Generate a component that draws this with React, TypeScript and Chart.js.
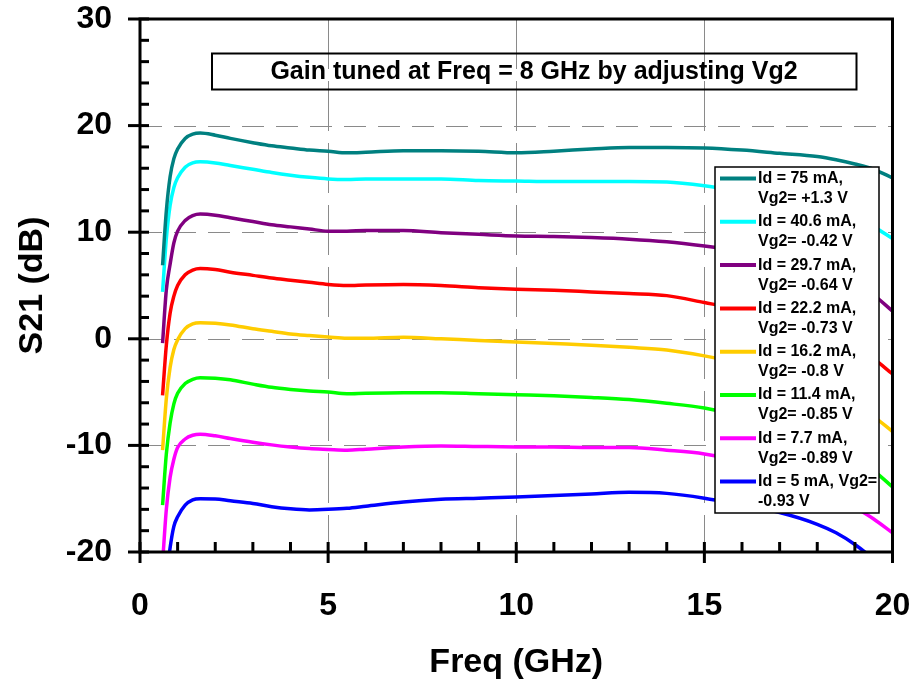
import React, { useEffect, useRef } from "react";
import { Chart, registerables } from "chart.js";

Chart.register(...registerables);

// ---------- DATA ----------
const freqGHz = [
  0.6, 0.7, 0.8, 0.9, 1.0, 1.2, 1.4, 1.6, 2.0, 2.4, 3.0, 3.5, 4.0, 4.5, 5.0, 5.5, 6.0,
  7.0, 8.0, 9.0, 10.0, 11.0, 12.0, 13.0, 14.0, 15.0, 16.0, 17.0, 18.0, 18.5, 19.0, 19.5, 20.0,
];

const s21_Id75 = [
  6.9, 12.0, 15.2, 16.9, 17.8, 18.8, 19.2, 19.3, 19.1, 18.8, 18.4, 18.1, 17.9, 17.7, 17.6, 17.45, 17.5,
  17.65, 17.65, 17.6, 17.45, 17.6, 17.8, 17.95, 17.95, 17.9, 17.7, 17.4, 17.1, 16.8, 16.4, 15.9, 15.1,
];
const s21_Id40_6 = [
  4.4, 9.4, 12.5, 14.2, 15.1, 16.1, 16.5, 16.6, 16.5, 16.25, 15.9, 15.6, 15.35, 15.15, 15.0, 14.95, 15.0,
  15.0, 15.0, 14.85, 14.8, 14.75, 14.75, 14.75, 14.7, 14.35, 13.8, 13.2, 12.4, 11.9, 11.3, 10.5, 9.4,
];
const s21_Id29_7 = [
  -0.4, 4.6, 7.0, 9.0, 10.1, 11.1, 11.55, 11.7, 11.6, 11.35, 11.0, 10.7, 10.5, 10.3, 10.1, 10.1, 10.15,
  10.15, 9.95, 9.8, 9.65, 9.6, 9.5, 9.35, 9.1, 8.7, 8.2, 7.5, 6.6, 6.0, 5.2, 4.1, 2.6,
];
const s21_Id22_2 = [
  -5.3, -0.6, 2.4, 4.0, 5.0, 6.0, 6.45, 6.6, 6.5, 6.25, 5.95, 5.7, 5.5, 5.3, 5.1, 5.0, 5.05,
  5.1, 5.0, 4.8, 4.65, 4.55, 4.4, 4.25, 4.05, 3.4, 2.7, 1.8, 0.6, -0.2, -1.0, -1.9, -3.3,
];
const s21_Id16_2 = [
  -10.45, -5.6, -2.7, -1.0, -0.1, 0.95, 1.4, 1.5, 1.45, 1.3, 0.95, 0.7, 0.45, 0.3, 0.17, 0.05, 0.05,
  0.15, 0.0, -0.15, -0.3, -0.45, -0.6, -0.8, -1.05, -1.6, -2.3, -3.2, -4.5, -5.3, -6.2, -7.3, -8.7,
];
const s21_Id11_4 = [
  -15.6, -10.8, -7.9, -6.1, -5.1, -4.2, -3.8, -3.65, -3.7, -3.85, -4.25, -4.55, -4.75, -4.9, -5.0, -5.15, -5.1,
  -5.05, -5.05, -5.15, -5.25, -5.35, -5.5, -5.7, -6.05, -6.5, -7.3, -8.3, -9.7, -10.6, -11.5, -12.4, -13.9,
];
const s21_Id7_7 = [
  -21.0, -16.0, -13.0, -11.3, -10.2, -9.4, -9.05, -8.95, -9.1, -9.35, -9.7, -9.95, -10.15, -10.3, -10.38, -10.45, -10.35,
  -10.15, -10.05, -10.1, -10.14, -10.15, -10.2, -10.2, -10.45, -10.8, -11.5, -12.5, -13.9, -14.8, -15.8, -16.9, -18.2,
];
const s21_Id5 = [
  -27.0, -22.5, -19.6, -17.6, -16.7, -15.6, -15.1, -15.0, -15.02, -15.2, -15.45, -15.75, -15.95, -16.05, -16.0, -15.9, -15.7,
  -15.3, -15.05, -14.95, -14.85, -14.7, -14.55, -14.4, -14.5, -14.95, -15.6, -16.3, -17.4, -18.2, -19.3, -20.7, -22.5,
];

const seriesValues = [s21_Id75, s21_Id40_6, s21_Id29_7, s21_Id22_2, s21_Id16_2, s21_Id11_4, s21_Id7_7, s21_Id5];

const seriesLabels = [
  ["Id = 75 mA,", "Vg2= +1.3 V"],
  ["Id = 40.6 mA,", "Vg2= -0.42 V"],
  ["Id = 29.7 mA,", "Vg2= -0.64 V"],
  ["Id = 22.2 mA,", "Vg2= -0.73 V"],
  ["Id = 16.2 mA,", "Vg2= -0.8 V"],
  ["Id = 11.4 mA,", "Vg2= -0.85 V"],
  ["Id = 7.7 mA,", "Vg2= -0.89 V"],
  ["Id = 5 mA, Vg2=", "-0.93 V"],
];

const seriesColors = ["#008080", "#00FFFF", "#800080", "#FF0000", "#FFCC00", "#00FF00", "#FF00FF", "#0000FF"];

const chartTitle = "Gain tuned at Freq = 8 GHz by adjusting Vg2";
const xTitle = "Freq (GHz)";
const yTitle = "S21 (dB)";

const FONT = "'Liberation Sans', Arial, Helvetica, sans-serif";

// ---------- PLUGINS ----------
const gridPlugin = {
  id: "customGrid",
  beforeDatasetsDraw(chart: any) {
    const { ctx, chartArea: a, scales } = chart;
    const x = scales.x;
    const y = scales.y;
    ctx.save();
    ctx.strokeStyle = "#8a8a8a";
    ctx.lineWidth = 1;
    ctx.setLineDash([22, 12]);
    y.ticks.forEach((t: any) => {
      if (t.value <= y.min || t.value >= y.max) return;
      const py = Math.round(y.getPixelForValue(t.value)) + 0.5;
      ctx.beginPath();
      ctx.moveTo(a.left, py);
      ctx.lineTo(a.right, py);
      ctx.stroke();
    });
    ctx.setLineDash([50, 12]);
    x.ticks.forEach((t: any) => {
      if (t.value <= x.min || t.value >= x.max) return;
      const px = Math.round(x.getPixelForValue(t.value)) + 0.5;
      ctx.beginPath();
      ctx.moveTo(px, a.top);
      ctx.lineTo(px, a.bottom);
      ctx.stroke();
    });
    ctx.restore();
  },
};

const framePlugin = {
  id: "frameTicks",
  afterDatasetsDraw(chart: any) {
    const { ctx, chartArea: a, scales } = chart;
    const x = scales.x;
    const y = scales.y;
    ctx.save();
    ctx.setLineDash([]);
    ctx.strokeStyle = "#000";
    ctx.lineWidth = 3;
    ctx.strokeRect(a.left, a.top, a.right - a.left, a.bottom - a.top);
    // y ticks
    for (let v = y.min; v <= y.max + 1e-6; v += 2) {
      const py = y.getPixelForValue(v);
      const major = Math.abs(v % 10) < 1e-6;
      ctx.beginPath();
      ctx.moveTo(major ? a.left - 12 : a.left, py);
      ctx.lineTo(a.left + 9, py);
      ctx.stroke();
    }
    // x ticks
    for (let v = x.min; v <= x.max + 1e-6; v += 1) {
      const px = x.getPixelForValue(v);
      const major = Math.abs(v % 5) < 1e-6;
      ctx.beginPath();
      ctx.moveTo(px, a.bottom - 10);
      ctx.lineTo(px, major ? a.bottom + 11 : a.bottom);
      ctx.stroke();
    }
    ctx.restore();
  },
};

const annotationPlugin = {
  id: "titleLegend",
  afterDraw(chart: any) {
    const { ctx } = chart;
    ctx.save();
    ctx.setLineDash([]);
    // Title box
    ctx.strokeStyle = "#000";
    ctx.lineWidth = 2;
    ctx.strokeRect(212, 53.5, 644.5, 36);
    ctx.fillStyle = "#000";
    ctx.font = `bold 25px ${FONT}`;
    ctx.textAlign = "center";
    ctx.textBaseline = "middle";
    ctx.fillText(chartTitle, 534, 72.5);

    // Legend box
    const lx = 715, ly = 167, lw = 164, lh = 346;
    ctx.fillStyle = "#fff";
    ctx.fillRect(lx, ly, lw, lh);
    ctx.lineWidth = 1.5;
    ctx.strokeStyle = "#000";
    ctx.strokeRect(lx, ly, lw, lh);
    ctx.font = `bold 16px ${FONT}`;
    ctx.textAlign = "left";
    ctx.textBaseline = "middle";
    chart.data.datasets.forEach((ds: any, i: number) => {
      const yy = 178.5 + 43.3 * i;
      ctx.strokeStyle = ds.borderColor;
      ctx.lineWidth = 4;
      ctx.beginPath();
      ctx.moveTo(720, yy);
      ctx.lineTo(756, yy);
      ctx.stroke();
      ctx.fillStyle = "#000";
      const lines: string[] = seriesLabels[i];
      lines.forEach((t, k) => ctx.fillText(t, 758, yy + 20 * k));
    });
    ctx.restore();
  },
};

// ---------- COMPONENT ----------
export default function App() {
  const canvasRef = useRef<HTMLCanvasElement | null>(null);

  useEffect(() => {
    if (!canvasRef.current) return;
    const datasets = seriesValues.map((vals, i) => ({
      label: seriesLabels[i].join(" "),
      data: freqGHz.map((f, j) => ({ x: f, y: vals[j] })),
      borderColor: seriesColors[i],
      backgroundColor: seriesColors[i],
      borderWidth: 3.5,
      pointRadius: 0,
      cubicInterpolationMode: "monotone" as const,
      fill: false,
    }));

    const chart = new Chart(canvasRef.current, {
      type: "line",
      data: { datasets },
      options: {
        animation: false,
        responsive: true,
        maintainAspectRatio: false,
        layout: { padding: { left: 0, right: 21.5, top: 19, bottom: 0 } },
        plugins: {
          legend: { display: false },
          tooltip: { enabled: false },
          title: { display: false },
        },
        scales: {
          x: {
            type: "linear",
            min: 0,
            max: 20,
            ticks: {
              stepSize: 5,
              color: "#000",
              font: { family: FONT, size: 32, weight: "bold", lineHeight: 1 },
              padding: 38,
              maxRotation: 0,
            },
            grid: { display: false, drawTicks: false },
            border: { display: false },
            title: {
              display: true,
              text: xTitle,
              color: "#000",
              font: { family: FONT, size: 34, weight: "bold", lineHeight: 1.2 },
              padding: { top: 0, bottom: 7 },
            },
            afterFit(scale: any) {
              scale.height = 138;
              scale.paddingLeft = 0;
              scale.paddingRight = 0;
              scale.paddingTop = 0;
              scale.paddingBottom = 0;
            },
          },
          y: {
            type: "linear",
            min: -20,
            max: 30,
            ticks: {
              stepSize: 10,
              color: "#000",
              font: { family: FONT, size: 32, weight: "bold", lineHeight: 1 },
              padding: 28,
            },
            grid: { display: false, drawTicks: false },
            border: { display: false },
            title: {
              display: true,
              text: yTitle,
              color: "#000",
              font: { family: FONT, size: 34, weight: "bold", lineHeight: 1.2 },
              padding: { top: 12, bottom: 0 },
            },
            afterFit(scale: any) {
              scale.width = 140;
              scale.paddingLeft = 0;
              scale.paddingRight = 0;
              scale.paddingTop = 0;
              scale.paddingBottom = 0;
            },
          },
        },
      },
      plugins: [gridPlugin, framePlugin, annotationPlugin],
    });
    return () => chart.destroy();
  }, []);

  return (
    <div style={{ position: "absolute", left: 0, top: 0, width: 914, height: 690, background: "#fff" }}>
      <canvas ref={canvasRef} />
    </div>
  );
}
